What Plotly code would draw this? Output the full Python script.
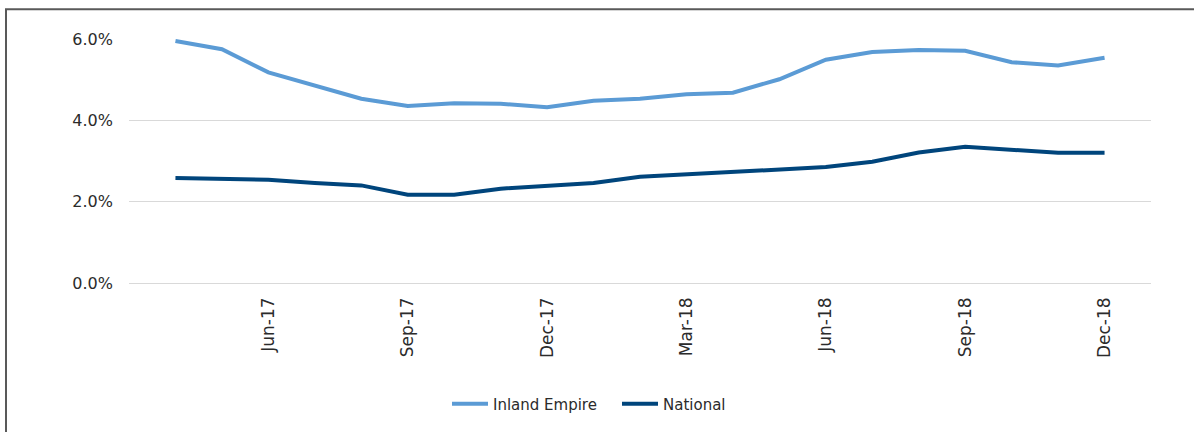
import plotly.graph_objects as go

months = ["Apr-17", "May-17", "Jun-17", "Jul-17", "Aug-17", "Sep-17", "Oct-17",
          "Nov-17", "Dec-17", "Jan-18", "Feb-18", "Mar-18", "Apr-18", "May-18",
          "Jun-18", "Jul-18", "Aug-18", "Sep-18", "Oct-18", "Nov-18", "Dec-18"]

inland_empire = [5.95, 5.75, 5.18, 4.85, 4.53, 4.35, 4.42, 4.41, 4.32, 4.48, 4.53,
                 4.64, 4.68, 5.01, 5.49, 5.68, 5.73, 5.71, 5.43, 5.35, 5.54]

national = [2.58, 2.56, 2.54, 2.46, 2.40, 2.17, 2.17, 2.32, 2.39, 2.46, 2.61,
            2.67, 2.73, 2.78, 2.85, 2.98, 3.21, 3.35, 3.28, 3.20, 3.20]

tick_months = ["Jun-17", "Sep-17", "Dec-17", "Mar-18", "Jun-18", "Sep-18", "Dec-18"]
y_ticks = [0, 2, 4, 6]
y_labels = ["0.0%", "2.0%", "4.0%", "6.0%"]

FONT = "'DejaVu Sans', 'Noto Sans', sans-serif"
TEXT = "#2B2B2B"

fig = go.Figure()
fig.add_trace(go.Scatter(x=months, y=inland_empire, mode="lines", name="Inland Empire",
                         line=dict(color="#5B9BD5", width=4)))
fig.add_trace(go.Scatter(x=months, y=national, mode="lines", name="National",
                         line=dict(color="#00457C", width=4)))

W, H = 1194, 432
ML, MR, MT, MB = 129, 43, 39, 147
pw, ph = W - ML - MR, H - MT - MB

def px_x(p):
    return (p - ML) / pw

def px_y(p):
    return (H - MB - p) / ph

# outer frame: top and left edges
fig.add_shape(type="line", xref="paper", yref="paper",
              x0=px_x(5), x1=px_x(1196), y0=px_y(9), y1=px_y(9),
              line=dict(color="#595959", width=2))
fig.add_shape(type="line", xref="paper", yref="paper",
              x0=px_x(6), x1=px_x(6), y0=px_y(9), y1=px_y(440),
              line=dict(color="#595959", width=2))

fig.update_layout(
    width=W, height=H,
    margin=dict(l=ML, r=MR, t=MT, b=MB),
    paper_bgcolor="white", plot_bgcolor="white",
    font=dict(family=FONT, size=16, color=TEXT),
    showlegend=True,
    legend=dict(orientation="h", x=px_x(617), xanchor="center", y=px_y(407),
                yanchor="middle", font=dict(size=15, color=TEXT), itemwidth=36,
                tracegroupgap=0, entrywidth=119),
    xaxis=dict(type="category", range=[-1, 21], tickmode="array", tickvals=tick_months,
               ticktext=tick_months, tickangle=-90, showgrid=False, showline=False,
               ticks="", ticklabelstandoff=10, tickfont=dict(size=17, color=TEXT)),
    yaxis=dict(range=[0, 6], tickvals=y_ticks, ticktext=y_labels, showgrid=True,
               gridcolor="#D9D9D9", gridwidth=1, zeroline=True, zerolinecolor="#D9D9D9",
               zerolinewidth=1, showline=False, ticks="", ticklabelstandoff=15,
               tickfont=dict(size=16, color=TEXT)),
)

fig.write_html("out.html")
